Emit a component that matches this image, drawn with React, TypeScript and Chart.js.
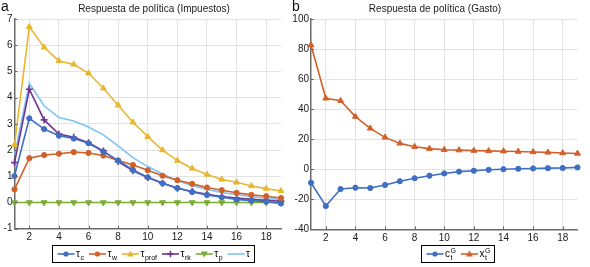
import React, { useEffect, useRef } from "react";
import { Chart, registerables } from "chart.js";
Chart.register(...registerables);

const periods = [1, 2, 3, 4, 5, 6, 7, 8, 9, 10, 11, 12, 13, 14, 15, 16, 17, 18, 19];
const xTickValues = [2, 4, 6, 8, 10, 12, 14, 16, 18];

const tauC = [1.01, 3.21, 2.8, 2.55, 2.44, 2.26, 1.94, 1.6, 1.24, 0.96, 0.73, 0.55, 0.4, 0.29, 0.2, 0.12, 0.07, 0.03, -0.04];
const tauW = [0.5, 1.69, 1.81, 1.86, 1.92, 1.89, 1.79, 1.6, 1.43, 1.23, 1.02, 0.85, 0.71, 0.57, 0.47, 0.37, 0.29, 0.24, 0.17];
const tauProf = [2.2, 6.7, 5.92, 5.4, 5.27, 4.93, 4.36, 3.71, 3.06, 2.51, 2.0, 1.6, 1.3, 1.07, 0.88, 0.77, 0.63, 0.53, 0.44];
const tauRk = [1.52, 4.32, 3.15, 2.61, 2.49, 2.28, 1.97, 1.56, 1.21, 0.95, 0.73, 0.54, 0.42, 0.31, 0.23, 0.17, 0.12, 0.08, 0.05];
const tauP = [0, 0, 0, 0, 0, 0, 0, 0, 0, 0, 0, 0, 0, 0, 0, 0, 0, 0, 0];
const tauTotal = [1.8, 4.55, 3.69, 3.24, 3.11, 2.88, 2.58, 2.16, 1.71, 1.37, 1.09, 0.83, 0.65, 0.5, 0.38, 0.3, 0.22, 0.16, 0.11];

const cG = [-9, -24.5, -13.2, -12.3, -12.5, -10.5, -8, -6, -4.3, -2.8, -1.6, -1, -0.4, 0, 0.3, 0.5, 0.7, 0.8, 1.2];
const xG = [82.7, 47.2, 45.6, 35, 27.2, 21.2, 17.2, 15, 13.7, 13, 12.7, 12.4, 12.2, 12, 11.8, 11.5, 11.2, 10.8, 10.5];

const leftTitle = "Respuesta de política (Impuestos)";
const rightTitle = "Respuesta de política (Gasto)";

const BLUE = "#3F6FC5";
const ORANGE = "#D2602A";
const YELLOW = "#E8B731";
const PURPLE = "#70338F";
const GREEN = "#7AAD35";
const LIGHTBLUE = "#7CC4F2";

const FONT = "'Liberation Sans', Arial, Helvetica, sans-serif";
const TEXT = "#1a1a1a";
const AXIS = "#6a6a6a";
const GRID = "#e3e3e3";

type LegendItem = { color: string; style: string | false; rotation?: number; base: string; sub?: string; sup?: string };

function pts(vals: number[]) {
  return periods.map((p, i) => ({ x: p, y: vals[i] }));
}

function series(label: string, vals: number[], color: string, style: any, radius: number, rotation = 0) {
  return {
    label,
    data: pts(vals),
    borderColor: color,
    backgroundColor: color,
    borderWidth: 1.6,
    pointStyle: style,
    pointRadius: radius,
    pointRotation: rotation,
    pointBorderWidth: style === "cross" ? 1.6 : 1,
    pointBackgroundColor: color,
    pointBorderColor: color,
    tension: 0,
    clip: false as any,
  };
}

function drawMarker(ctx: CanvasRenderingContext2D, style: string, x: number, y: number, r: number, rotation: number, color: string) {
  ctx.save();
  ctx.fillStyle = color;
  ctx.strokeStyle = color;
  ctx.lineWidth = style === "cross" ? 1.6 : 1;
  ctx.translate(x, y);
  ctx.rotate((rotation * Math.PI) / 180);
  ctx.beginPath();
  if (style === "circle") {
    ctx.arc(0, 0, r, 0, Math.PI * 2);
    ctx.fill();
  } else if (style === "triangle") {
    ctx.moveTo(0, -r * 1.1);
    ctx.lineTo(r * 1.1, r * 0.8);
    ctx.lineTo(-r * 1.1, r * 0.8);
    ctx.closePath();
    ctx.fill();
  } else if (style === "cross") {
    ctx.moveTo(-r, 0);
    ctx.lineTo(r, 0);
    ctx.moveTo(0, -r);
    ctx.lineTo(0, r);
    ctx.stroke();
  }
  ctx.restore();
}

function labelWidth(ctx: CanvasRenderingContext2D, it: LegendItem) {
  ctx.font = `10px ${FONT}`;
  const w = ctx.measureText(it.base).width;
  ctx.font = `7px ${FONT}`;
  const s1 = it.sub ? ctx.measureText(it.sub).width : 0;
  const s2 = it.sup ? ctx.measureText(it.sup).width : 0;
  return w + Math.max(s1, s2) + (it.sub || it.sup ? 0.5 : 0);
}

function makePlugin(cfg: {
  letter: string;
  letterX: number;
  title: string;
  titleX: number;
  legend: LegendItem[];
  legendCenter: number;
  legendTop: number;
}) {
  return {
    id: "decor",
    afterDraw(chart: any) {
      const ctx: CanvasRenderingContext2D = chart.ctx;
      const area = chart.chartArea;
      ctx.save();
      ctx.strokeStyle = AXIS;
      ctx.lineWidth = 1;
      const xs = chart.scales.x;
      const ys = chart.scales.y;
      ys.ticks.forEach((t: any) => {
        const py = Math.round(ys.getPixelForValue(t.value)) + 0.5;
        ctx.beginPath();
        ctx.moveTo(area.left, py);
        ctx.lineTo(area.left + 3, py);
        ctx.stroke();
      });
      xs.ticks.forEach((t: any) => {
        const px = Math.round(xs.getPixelForValue(t.value)) + 0.5;
        ctx.beginPath();
        ctx.moveTo(px, area.bottom);
        ctx.lineTo(px, area.bottom - 3);
        ctx.stroke();
      });
      ctx.fillStyle = "#111";
      ctx.font = `14px ${FONT}`;
      ctx.textBaseline = "alphabetic";
      ctx.textAlign = "left";
      ctx.fillText(cfg.letter, cfg.letterX, 11);
      ctx.font = `10px ${FONT}`;
      ctx.fillStyle = TEXT;
      ctx.textAlign = "center";
      ctx.fillText(cfg.title, cfg.titleX, 12);
      const lineLen = 17;
      const gapAfterLine = 1.5;
      const gapItems = 5;
      const padL = 5;
      const padR = 4;
      const widths = cfg.legend.map((it) => labelWidth(ctx, it));
      let total = padL + padR;
      widths.forEach((w, i) => {
        total += lineLen + gapAfterLine + w + (i < widths.length - 1 ? gapItems : 0);
      });
      const bx = Math.round(cfg.legendCenter - total / 2) + 0.5;
      const by = cfg.legendTop + 0.5;
      const bh = 17;
      ctx.fillStyle = "#fff";
      ctx.fillRect(bx, by, total, bh);
      ctx.strokeStyle = "#000";
      ctx.lineWidth = 1;
      ctx.strokeRect(bx, by, Math.round(total), bh);
      let cx = bx + padL;
      const cy = by + bh / 2;
      cfg.legend.forEach((it, i) => {
        ctx.strokeStyle = it.color;
        ctx.lineWidth = 1.6;
        ctx.beginPath();
        ctx.moveTo(cx, cy);
        ctx.lineTo(cx + lineLen, cy);
        ctx.stroke();
        if (it.style) drawMarker(ctx, it.style, cx + lineLen / 2, cy, it.style === "circle" ? 2.6 : 3.2, it.rotation || 0, it.color);
        cx += lineLen + gapAfterLine;
        ctx.fillStyle = "#000";
        ctx.textAlign = "left";
        ctx.textBaseline = "alphabetic";
        ctx.font = `10px ${FONT}`;
        ctx.fillText(it.base, cx, cy + 3);
        const bw = ctx.measureText(it.base).width + 0.5;
        ctx.font = `7px ${FONT}`;
        if (it.sub) ctx.fillText(it.sub, cx + bw, cy + 5.5);
        if (it.sup) ctx.fillText(it.sup, cx + bw, cy - 1.5);
        cx += widths[i] + gapItems;
      });
      ctx.restore();
    },
  };
}

function baseOptions(yMin: number, yMax: number, yStep: number, yWidth: number, pad: any, xHeight: number) {
  return {
    responsive: false,
    animation: false as const,
    devicePixelRatio: 1,
    layout: { padding: pad, autoPadding: false },
    plugins: { legend: { display: false }, tooltip: { enabled: false }, title: { display: false } },
    scales: {
      x: {
        type: "linear" as const,
        min: 1,
        max: 19,
        afterBuildTicks: (scale: any) => {
          scale.ticks = xTickValues.map((v) => ({ value: v }));
        },
        afterFit: (scale: any) => {
          scale.height = xHeight;
        },
        grid: { color: GRID, lineWidth: 1, drawTicks: false },
        border: { display: true, color: AXIS, width: 1.5 },
        ticks: { color: TEXT, font: { family: FONT, size: 10 }, padding: 3, maxRotation: 0, autoSkip: false },
      },
      y: {
        type: "linear" as const,
        min: yMin,
        max: yMax,
        ticks: { stepSize: yStep, color: TEXT, font: { family: FONT, size: 10 }, padding: 2 },
        afterFit: (scale: any) => {
          scale.width = yWidth;
        },
        grid: { color: GRID, lineWidth: 1, drawTicks: false },
        border: { display: true, color: AXIS, width: 1.5 },
      },
    },
  };
}

function LeftChart() {
  const ref = useRef<HTMLCanvasElement>(null);
  useEffect(() => {
    if (!ref.current) return;
    const chart = new Chart(ref.current, {
      type: "line",
      data: {
        datasets: [
          series("τc", tauC, BLUE, "circle", 2.6),
          series("τw", tauW, ORANGE, "circle", 2.6),
          series("τprof", tauProf, YELLOW, "triangle", 3.4),
          series("τrk", tauRk, PURPLE, "cross", 3.4),
          series("τp", tauP, GREEN, "triangle", 3.4, 180),
          { ...series("τ", tauTotal, LIGHTBLUE, false, 0), pointRadius: 0 },
        ],
      },
      options: baseOptions(-1, 7, 1, 14.5, { top: 19, right: 9, left: 0, bottom: 24 }, 14.3) as any,
      plugins: [
        makePlugin({
          letter: "a",
          letterX: 1,
          title: leftTitle,
          titleX: 154,
          legendCenter: 153,
          legendTop: 245,
          legend: [
            { color: BLUE, style: "circle", base: "τ", sub: "c" },
            { color: ORANGE, style: "circle", base: "τ", sub: "w" },
            { color: YELLOW, style: "triangle", base: "τ", sub: "prof" },
            { color: PURPLE, style: "cross", base: "τ", sub: "rk" },
            { color: GREEN, style: "triangle", rotation: 180, base: "τ", sub: "p" },
            { color: LIGHTBLUE, style: false, base: "τ" },
          ],
        }),
      ],
    });
    return () => chart.destroy();
  }, []);
  return <canvas ref={ref} width={290} height={267} style={{ position: "absolute", left: 0, top: 0, width: 290, height: 267 }} />;
}

function RightChart() {
  const ref = useRef<HTMLCanvasElement>(null);
  useEffect(() => {
    if (!ref.current) return;
    const chart = new Chart(ref.current, {
      type: "line",
      data: {
        datasets: [
          series("cG", cG, BLUE, "circle", 2.6),
          series("xG", xG, ORANGE, "triangle", 3.4),
        ],
      },
      options: baseOptions(-40, 100, 20, 21, { top: 19, right: 12.5, left: 0, bottom: 23.5 }, 14.2) as any,
      plugins: [
        makePlugin({
          letter: "b",
          letterX: 2,
          title: rightTitle,
          titleX: 145,
          legendCenter: 167,
          legendTop: 245,
          legend: [
            { color: BLUE, style: "circle", base: "c", sub: "t", sup: "G" },
            { color: ORANGE, style: "triangle", base: "x", sub: "t", sup: "G" },
          ],
        }),
      ],
    });
    return () => chart.destroy();
  }, []);
  return <canvas ref={ref} width={300} height={267} style={{ position: "absolute", left: 290, top: 0, width: 300, height: 267 }} />;
}

export default function App() {
  useEffect(() => {
    document.body.style.margin = "0";
  }, []);
  return (
    <div style={{ position: "absolute", left: 0, top: 0, width: 590, height: 267, background: "#fff", overflow: "hidden" }}>
      <LeftChart />
      <RightChart />
    </div>
  );
}
